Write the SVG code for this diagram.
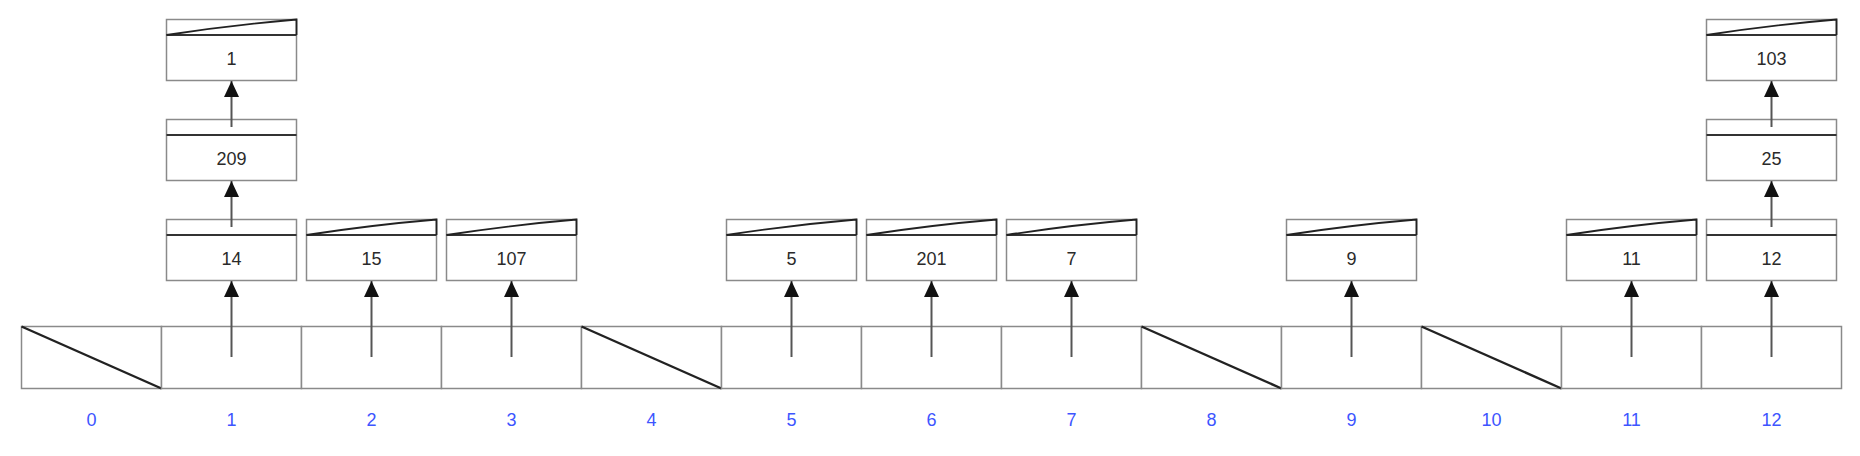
<svg xmlns="http://www.w3.org/2000/svg" width="1860" height="456" viewBox="0 0 1860 456">
<style>
.cell{fill:#fff;stroke:#8a8a8a;stroke-width:1.5}
.slash{stroke:#222;stroke-width:2.4;fill:none}
.box{fill:#fff;stroke:#8a8a8a;stroke-width:1.5}
.div{stroke:#333;stroke-width:2.2}
.nil{stroke:#222;stroke-width:1.8;fill:none}
.val{font-family:"Liberation Sans",Arial,sans-serif;font-size:18px;fill:#2a2a2a;text-anchor:middle}
.idx{font-family:"Liberation Sans",Arial,sans-serif;font-size:18px;fill:#3d55ff;text-anchor:middle}
.ptr{stroke:#555;stroke-width:2;fill:none;marker-end:url(#ah)}
</style>
<defs>
<marker id="ah" markerUnits="userSpaceOnUse" markerWidth="16" markerHeight="16" viewBox="0 0 16 16" refX="16" refY="8" orient="auto">
<path d="M0,0.5 L16,8 L0,15.5 Z" fill="#111"/>
</marker>
</defs>
<rect width="1860" height="456" fill="#fff"/>

<g id="array">
<rect class="cell" x="21.5" y="326.5" width="140" height="62"/>
<line class="slash" x1="21.5" y1="326.5" x2="161.5" y2="388.5"/>
<rect class="cell" x="161.5" y="326.5" width="140" height="62"/>
<rect class="cell" x="301.5" y="326.5" width="140" height="62"/>
<rect class="cell" x="441.5" y="326.5" width="140" height="62"/>
<rect class="cell" x="581.5" y="326.5" width="140" height="62"/>
<line class="slash" x1="581.5" y1="326.5" x2="721.5" y2="388.5"/>
<rect class="cell" x="721.5" y="326.5" width="140" height="62"/>
<rect class="cell" x="861.5" y="326.5" width="140" height="62"/>
<rect class="cell" x="1001.5" y="326.5" width="140" height="62"/>
<rect class="cell" x="1141.5" y="326.5" width="140" height="62"/>
<line class="slash" x1="1141.5" y1="326.5" x2="1281.5" y2="388.5"/>
<rect class="cell" x="1281.5" y="326.5" width="140" height="62"/>
<rect class="cell" x="1421.5" y="326.5" width="140" height="62"/>
<line class="slash" x1="1421.5" y1="326.5" x2="1561.5" y2="388.5"/>
<rect class="cell" x="1561.5" y="326.5" width="140" height="62"/>
<rect class="cell" x="1701.5" y="326.5" width="140" height="62"/>
</g>

<g id="indices">
<text class="idx" x="91.5" y="425.5">0</text>
<text class="idx" x="231.5" y="425.5">1</text>
<text class="idx" x="371.5" y="425.5">2</text>
<text class="idx" x="511.5" y="425.5">3</text>
<text class="idx" x="651.5" y="425.5">4</text>
<text class="idx" x="791.5" y="425.5">5</text>
<text class="idx" x="931.5" y="425.5">6</text>
<text class="idx" x="1071.5" y="425.5">7</text>
<text class="idx" x="1211.5" y="425.5">8</text>
<text class="idx" x="1351.5" y="425.5">9</text>
<text class="idx" x="1491.5" y="425.5">10</text>
<text class="idx" x="1631.5" y="425.5">11</text>
<text class="idx" x="1771.5" y="425.5">12</text>
</g>

<g id="node-14">
<rect class="box" x="166.5" y="219.5" width="130" height="61"/>
<line class="div" x1="166.5" y1="235" x2="296.5" y2="235"/>
<text class="val" x="231.5" y="265">14</text>
</g>
<g id="node-209">
<rect class="box" x="166.5" y="119.5" width="130" height="61"/>
<line class="div" x1="166.5" y1="135" x2="296.5" y2="135"/>
<text class="val" x="231.5" y="165">209</text>
</g>
<g id="node-1">
<rect class="box" x="166.5" y="19.5" width="130" height="61"/>
<line class="div" x1="166.5" y1="35" x2="296.5" y2="35"/>
<path class="nil" d="M166.5,35 Q231.5,25 296.5,19.5 L296.5,35"/>
<text class="val" x="231.5" y="65">1</text>
</g>
<g id="node-15">
<rect class="box" x="306.5" y="219.5" width="130" height="61"/>
<line class="div" x1="306.5" y1="235" x2="436.5" y2="235"/>
<path class="nil" d="M306.5,235 Q371.5,225 436.5,219.5 L436.5,235"/>
<text class="val" x="371.5" y="265">15</text>
</g>
<g id="node-107">
<rect class="box" x="446.5" y="219.5" width="130" height="61"/>
<line class="div" x1="446.5" y1="235" x2="576.5" y2="235"/>
<path class="nil" d="M446.5,235 Q511.5,225 576.5,219.5 L576.5,235"/>
<text class="val" x="511.5" y="265">107</text>
</g>
<g id="node-5">
<rect class="box" x="726.5" y="219.5" width="130" height="61"/>
<line class="div" x1="726.5" y1="235" x2="856.5" y2="235"/>
<path class="nil" d="M726.5,235 Q791.5,225 856.5,219.5 L856.5,235"/>
<text class="val" x="791.5" y="265">5</text>
</g>
<g id="node-201">
<rect class="box" x="866.5" y="219.5" width="130" height="61"/>
<line class="div" x1="866.5" y1="235" x2="996.5" y2="235"/>
<path class="nil" d="M866.5,235 Q931.5,225 996.5,219.5 L996.5,235"/>
<text class="val" x="931.5" y="265">201</text>
</g>
<g id="node-7">
<rect class="box" x="1006.5" y="219.5" width="130" height="61"/>
<line class="div" x1="1006.5" y1="235" x2="1136.5" y2="235"/>
<path class="nil" d="M1006.5,235 Q1071.5,225 1136.5,219.5 L1136.5,235"/>
<text class="val" x="1071.5" y="265">7</text>
</g>
<g id="node-9">
<rect class="box" x="1286.5" y="219.5" width="130" height="61"/>
<line class="div" x1="1286.5" y1="235" x2="1416.5" y2="235"/>
<path class="nil" d="M1286.5,235 Q1351.5,225 1416.5,219.5 L1416.5,235"/>
<text class="val" x="1351.5" y="265">9</text>
</g>
<g id="node-11">
<rect class="box" x="1566.5" y="219.5" width="130" height="61"/>
<line class="div" x1="1566.5" y1="235" x2="1696.5" y2="235"/>
<path class="nil" d="M1566.5,235 Q1631.5,225 1696.5,219.5 L1696.5,235"/>
<text class="val" x="1631.5" y="265">11</text>
</g>
<g id="node-12">
<rect class="box" x="1706.5" y="219.5" width="130" height="61"/>
<line class="div" x1="1706.5" y1="235" x2="1836.5" y2="235"/>
<text class="val" x="1771.5" y="265">12</text>
</g>
<g id="node-25">
<rect class="box" x="1706.5" y="119.5" width="130" height="61"/>
<line class="div" x1="1706.5" y1="135" x2="1836.5" y2="135"/>
<text class="val" x="1771.5" y="165">25</text>
</g>
<g id="node-103">
<rect class="box" x="1706.5" y="19.5" width="130" height="61"/>
<line class="div" x1="1706.5" y1="35" x2="1836.5" y2="35"/>
<path class="nil" d="M1706.5,35 Q1771.5,25 1836.5,19.5 L1836.5,35"/>
<text class="val" x="1771.5" y="65">103</text>
</g>

<g id="connectors">
<line class="ptr" x1="231.5" y1="357" x2="231.5" y2="281"/>
<line class="ptr" x1="371.5" y1="357" x2="371.5" y2="281"/>
<line class="ptr" x1="511.5" y1="357" x2="511.5" y2="281"/>
<line class="ptr" x1="791.5" y1="357" x2="791.5" y2="281"/>
<line class="ptr" x1="931.5" y1="357" x2="931.5" y2="281"/>
<line class="ptr" x1="1071.5" y1="357" x2="1071.5" y2="281"/>
<line class="ptr" x1="1351.5" y1="357" x2="1351.5" y2="281"/>
<line class="ptr" x1="1631.5" y1="357" x2="1631.5" y2="281"/>
<line class="ptr" x1="1771.5" y1="357" x2="1771.5" y2="281"/>
<line class="ptr" x1="231.5" y1="227" x2="231.5" y2="181"/>
<line class="ptr" x1="231.5" y1="127" x2="231.5" y2="81"/>
<line class="ptr" x1="1771.5" y1="227" x2="1771.5" y2="181"/>
<line class="ptr" x1="1771.5" y1="127" x2="1771.5" y2="81"/>
</g>
</svg>
